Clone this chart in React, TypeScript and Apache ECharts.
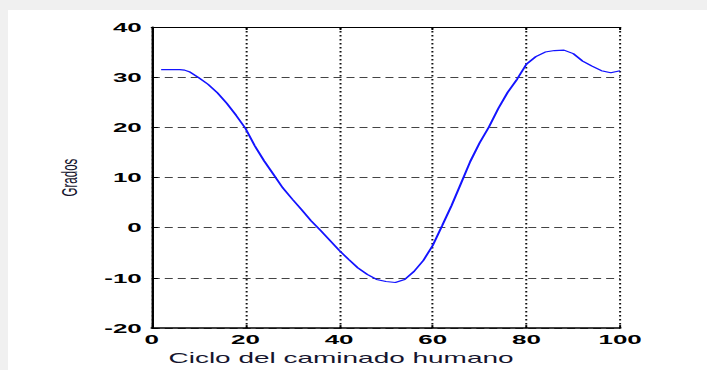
import React, { useEffect, useRef } from 'react';
import * as echarts from 'echarts';

const cyclePercent = [2, 4, 6, 7, 8, 10, 12, 14, 16, 18, 20, 22, 24, 26, 28, 30, 32, 34, 36, 38, 40, 42, 44, 46, 48, 50, 52, 54, 56, 58, 60, 62, 64, 66, 68, 70, 72, 74, 76, 78, 80, 82, 84, 86, 88, 90, 92, 94, 96, 98, 100];
const degrees = [31.5, 31.5, 31.5, 31.4, 31.1, 29.9, 28.6, 26.9, 24.8, 22.4, 19.8, 16.3, 13.3, 10.6, 7.9, 5.7, 3.6, 1.4, -0.5, -2.5, -4.5, -6.3, -8, -9.3, -10.3, -10.7, -10.9, -10.3, -8.7, -6.5, -3.5, 0.4, 4.4, 8.8, 13.2, 16.9, 20.1, 23.8, 27, 29.6, 32.6, 34.1, 35, 35.3, 35.4, 34.7, 33.2, 32.2, 31.3, 30.9, 31.3];

const xMin = 0;
const xMax = 100;
const xStep = 20;
const yMin = -20;
const yMax = 40;
const yStep = 10;

const xName = 'Ciclo del caminado humano';
const yName = 'Grados';

const FONT = '"Liberation Sans", Arial, sans-serif';
const STRETCH = 707 / 354;

export default function App() {
  const ref = useRef<HTMLDivElement>(null);

  useEffect(() => {
    if (!ref.current) return;
    const chart = echarts.init(ref.current, null, { renderer: 'svg' });
    const points = cyclePercent.map((x, i) => [x, degrees[i]]);
    chart.setOption({
      animation: false,
      grid: { left: 76, right: 43.5, top: 27, bottom: 34 },
      xAxis: [
        {
          type: 'value',
          min: xMin,
          max: xMax,
          interval: xStep,
          position: 'bottom',
          name: xName,
          nameLocation: 'middle',
          nameGap: 17,
          nameTextStyle: { fontFamily: FONT, fontSize: 14, color: '#15152e', padding: [0, 45, 0, 0] },
          axisLine: { show: true, onZero: false, lineStyle: { color: '#000', width: 1.5 } },
          axisTick: { show: true, inside: true, length: 3, lineStyle: { color: '#000', width: 1 } },
          axisLabel: { fontFamily: FONT, fontSize: 13, fontWeight: 'bold', color: '#000', margin: 5 },
          splitLine: { show: true, lineStyle: { color: '#111', width: 1, type: [1.5, 2.5] } },
        },
        {
          type: 'value',
          min: xMin,
          max: xMax,
          interval: xStep,
          position: 'top',
          axisLine: { show: true, onZero: false, lineStyle: { color: '#000', width: 1.2 } },
          axisTick: { show: true, inside: true, length: 3, lineStyle: { color: '#000', width: 1 } },
          axisLabel: { show: false },
          splitLine: { show: false },
        },
      ],
      yAxis: {
        type: 'value',
        min: yMin,
        max: yMax,
        interval: yStep,
        name: yName,
        nameLocation: 'middle',
        nameGap: 35,
        nameTextStyle: { fontFamily: FONT, fontSize: 11.5, color: '#15152e' },
        axisLine: { show: true, onZero: false, lineStyle: { color: '#000', width: 1.2 } },
        axisTick: { show: true, inside: true, length: 3, lineStyle: { color: '#000', width: 1 } },
        axisLabel: { fontFamily: FONT, fontSize: 13, fontWeight: 'bold', color: '#000', margin: 5 },
        splitLine: { show: true, lineStyle: { color: '#444', width: 1, type: [4, 2.5] } },
      },
      series: [
        {
          type: 'line',
          data: points,
          showSymbol: false,
          smooth: false,
          lineStyle: { color: '#1414ff', width: 1.1 },
          xAxisIndex: 0,
        },
      ],
    });
    return () => chart.dispose();
  }, []);

  return (
    <div style={{ position: 'fixed', left: 0, top: 0, width: 707, height: 370, background: '#f0f0f0', overflow: 'hidden' }}>
      <div style={{ position: 'absolute', left: 8, top: 10, right: 0, bottom: 0, background: '#ffffff' }} />
      <div
        ref={ref}
        style={{ position: 'absolute', left: 0, top: 0, width: 354, height: 370, transform: `scaleX(${STRETCH})`, transformOrigin: '0 0' }}
      />
    </div>
  );
}
